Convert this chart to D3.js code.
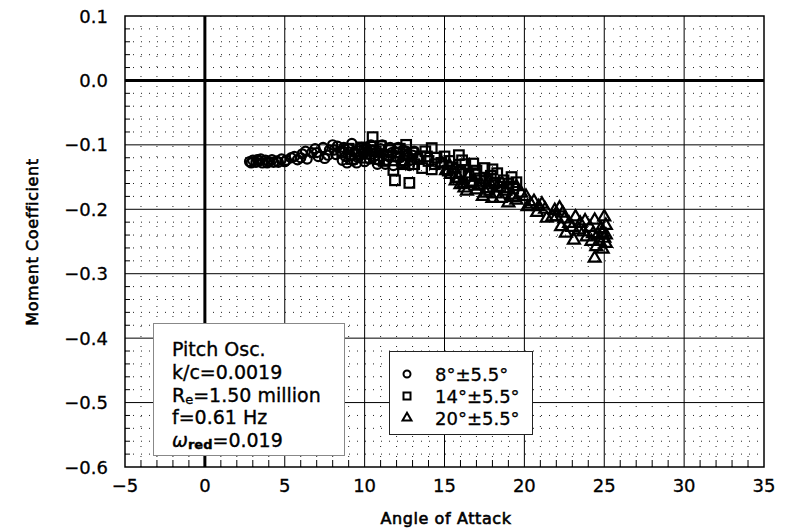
<!DOCTYPE html>
<html><head><meta charset="utf-8">
<script src="https://cdn.jsdelivr.net/npm/d3@7"></script>
<style>body{margin:0;background:#fff}svg{display:block;font-family:"DejaVu Sans",sans-serif}</style>
</head><body><svg id="c" width="791" height="531"></svg>
<script>
const xTicks=[-5,0,5,10,15,20,25,30,35];
const yTicks=[0.1,0.0,-0.1,-0.2,-0.3,-0.4,-0.5,-0.6];
const yTickLabels=["0.1","0.0","\u22120.1","\u22120.2","\u22120.3","\u22120.4","\u22120.5","\u22120.6"];
const xTickLabels=["\u22125","0","5","10","15","20","25","30","35"];
const legendLabels=["8\u00b0\u00b15.5\u00b0","14\u00b0\u00b15.5\u00b0","20\u00b0\u00b15.5\u00b0"];
const circleData=[[2.8,-0.126],[3.0,-0.124],[3.2,-0.127],[3.4,-0.125],[3.6,-0.128],[3.8,-0.124],[4.0,-0.126],[4.2,-0.123],[4.5,-0.125],[4.8,-0.122],[5.1,-0.124],[5.4,-0.120],[5.6,-0.118],[5.8,-0.123],[6.1,-0.114],[6.3,-0.110],[6.4,-0.122],[6.7,-0.112],[6.9,-0.106],[7.1,-0.118],[7.4,-0.104],[7.5,-0.121],[7.8,-0.108],[8.0,-0.100],[8.2,-0.115],[8.3,-0.102],[8.6,-0.124],[8.9,-0.128],[9.0,-0.106],[9.2,-0.098],[9.4,-0.112],[9.6,-0.120],[9.8,-0.104],[10.0,-0.126],[10.2,-0.110],[10.4,-0.100],[10.6,-0.118],[10.8,-0.130],[11.0,-0.106],[11.2,-0.114],[11.4,-0.124],[11.6,-0.104],[11.8,-0.132],[12.0,-0.112],[12.2,-0.120],[12.4,-0.108],[12.5,-0.128],[12.7,-0.116],[12.9,-0.124],[13.1,-0.110],[13.3,-0.120],[9.5,-0.128],[10.5,-0.108],[8.5,-0.110],[11.5,-0.118],[7.0,-0.112],[6.0,-0.120],[5.0,-0.126],[3.5,-0.122],[4.3,-0.127],[2.9,-0.128],[3.3,-0.123],[3.9,-0.128],[4.6,-0.127],[8.7,-0.104],[9.1,-0.116],[9.3,-0.124],[9.9,-0.114],[10.1,-0.104],[10.3,-0.122],[10.7,-0.112],[10.9,-0.124],[11.1,-0.100],[11.3,-0.130],[11.7,-0.112],[12.1,-0.104],[12.3,-0.128],[12.6,-0.110],[12.8,-0.132],[13.0,-0.116],[7.7,-0.116],[8.1,-0.108],[8.8,-0.118]];
const squareData=[[8.6,-0.112],[9.0,-0.106],[9.4,-0.115],[9.8,-0.104],[10.1,-0.120],[10.5,-0.088],[10.7,-0.110],[11.0,-0.102],[11.2,-0.125],[11.5,-0.108],[11.8,-0.139],[11.9,-0.155],[12.1,-0.118],[12.4,-0.130],[12.6,-0.100],[12.8,-0.159],[13.0,-0.112],[13.3,-0.122],[13.6,-0.136],[13.8,-0.110],[14.2,-0.105],[14.2,-0.138],[14.5,-0.120],[14.8,-0.128],[15.0,-0.118],[15.3,-0.125],[15.5,-0.135],[15.9,-0.116],[16.0,-0.142],[16.3,-0.130],[16.5,-0.148],[16.8,-0.129],[17.0,-0.140],[17.2,-0.152],[17.5,-0.136],[17.8,-0.170],[17.9,-0.148],[18.1,-0.160],[18.3,-0.144],[18.5,-0.165],[18.7,-0.155],[19.0,-0.160],[19.3,-0.168],[19.5,-0.158],[13.5,-0.118],[12.0,-0.112],[10.0,-0.108],[15.7,-0.150],[16.7,-0.158],[14.0,-0.125],[9.2,-0.122],[9.6,-0.110],[10.3,-0.114],[10.9,-0.122],[11.4,-0.116],[12.2,-0.106],[12.5,-0.124],[13.1,-0.130],[13.9,-0.118],[14.4,-0.130],[15.2,-0.140],[16.1,-0.124],[16.9,-0.146],[17.6,-0.156],[18.0,-0.138],[18.9,-0.166],[19.2,-0.150]];
const triangleData=[[14.8,-0.128],[15.1,-0.140],[15.4,-0.146],[15.6,-0.136],[15.9,-0.152],[16.2,-0.160],[16.25,-0.167],[16.5,-0.150],[16.8,-0.158],[17.0,-0.170],[17.3,-0.162],[17.6,-0.175],[17.8,-0.158],[18.0,-0.183],[18.3,-0.166],[18.5,-0.183],[18.8,-0.172],[19.2,-0.178],[19.5,-0.165],[19.5,-0.186],[19.8,-0.175],[20.1,-0.180],[20.4,-0.192],[20.6,-0.188],[20.9,-0.196],[21.1,-0.192],[21.4,-0.214],[21.75,-0.212],[21.9,-0.202],[22.2,-0.198],[22.3,-0.227],[22.5,-0.215],[22.6,-0.237],[22.8,-0.222],[23.1,-0.248],[23.2,-0.212],[23.5,-0.222],[23.7,-0.235],[23.9,-0.243],[24.1,-0.228],[24.4,-0.217],[24.4,-0.276],[24.5,-0.258],[24.6,-0.240],[24.8,-0.230],[24.9,-0.237],[25.0,-0.212],[25.1,-0.253],[25.0,-0.245],[24.7,-0.250],[25.1,-0.225],[24.2,-0.250],[23.4,-0.232],[22.0,-0.212],[20.8,-0.205],[19.0,-0.190],[17.4,-0.180],[16.0,-0.162],[15.3,-0.132],[15.7,-0.156],[16.4,-0.172],[17.1,-0.164],[17.7,-0.168],[18.2,-0.176],[18.6,-0.160],[19.3,-0.182],[20.2,-0.196],[21.3,-0.200],[22.4,-0.206],[23.0,-0.228],[23.8,-0.218],[24.3,-0.238],[24.9,-0.262],[25.1,-0.240]];

const svg=d3.select("#c");
const L=125,R=764,T=16,B=467;
const x=d3.scaleLinear().domain([-5,35]).range([L,R]);
const y=d3.scaleLinear().domain([-0.6,0.1]).range([B,T]);

const g=svg.append("g");
const minorX=d3.range(-4,35,1).filter(v=>v%5!==0);
const minorY=d3.range(-29,5,1).map(v=>v*0.02).filter(v=>Math.abs(Math.round(v*50))%5!==0);
g.selectAll(".mx").data(minorX).join("line").attr("x1",d=>x(d)).attr("x2",d=>x(d)).attr("y1",T).attr("y2",B)
 .attr("stroke","#222").attr("stroke-width",1).attr("stroke-dasharray","1,9");
g.selectAll(".my").data(minorY).join("line").attr("y1",d=>y(d)).attr("y2",d=>y(d)).attr("x1",L).attr("x2",R)
 .attr("stroke","#222").attr("stroke-width",1).attr("stroke-dasharray","1,7");
g.selectAll(".Mx").data(xTicks.slice(1,-1)).join("line").attr("x1",d=>x(d)).attr("x2",d=>x(d)).attr("y1",T).attr("y2",B)
 .attr("stroke","#000").attr("stroke-width",d=>d===0?3:1);
g.selectAll(".My").data(yTicks.slice(1,-1)).join("line").attr("y1",d=>y(d)).attr("y2",d=>y(d)).attr("x1",L).attr("x2",R)
 .attr("stroke","#000").attr("stroke-width",d=>d===0?3:1);
g.selectAll(".tx").data(minorX).join("line").attr("x1",d=>x(d)).attr("x2",d=>x(d)).attr("y1",B).attr("y2",B-7).attr("stroke","#000");
g.selectAll(".ty").data(minorY).join("line").attr("y1",d=>y(d)).attr("y2",d=>y(d)).attr("x1",L).attr("x2",L+5).attr("stroke","#000");
svg.append("rect").attr("x",L).attr("y",T).attr("width",R-L).attr("height",B-T).attr("fill","none").attr("stroke","#000").attr("stroke-width",1.5);

svg.selectAll(".yl").data(yTicks).join("text").attr("x",L-17).attr("y",d=>y(d)+6.5).attr("text-anchor","end")
 .attr("font-size",18).attr("stroke","#000").attr("stroke-width",0.3).text((d,i)=>yTickLabels[i]);
svg.selectAll(".xl").data(xTicks).join("text").attr("x",d=>x(d)).attr("y",B+25).attr("text-anchor","middle")
 .attr("font-size",18).attr("stroke","#000").attr("stroke-width",0.3).text((d,i)=>xTickLabels[i]);
svg.append("text").attr("x",446).attr("y",524).attr("text-anchor","middle").attr("font-size",16).attr("stroke","#000").attr("stroke-width",0.6).attr("letter-spacing",0.6).text("Angle of Attack");
svg.append("text").attr("transform","translate(38,242) rotate(-90)").attr("text-anchor","middle").attr("font-size",16).attr("stroke","#000").attr("stroke-width",0.6).attr("letter-spacing",0.6).text("Moment Coefficient");

const pts=svg.append("g").attr("fill","none").attr("stroke","#000").attr("stroke-width",2.2);
pts.selectAll(".c").data(circleData).join("circle").attr("cx",d=>x(d[0])).attr("cy",d=>y(d[1])).attr("r",4.6);
pts.selectAll(".s").data(squareData).join("rect").attr("x",d=>x(d[0])-4.8).attr("y",d=>y(d[1])-4.8).attr("width",9.6).attr("height",9.6);
const tri=d3.symbol().type(d3.symbolTriangle).size(62);
pts.selectAll(".t").data(triangleData).join("path").attr("transform",d=>`translate(${x(d[0])},${y(d[1])})`).attr("d",tri);

svg.append("rect").attr("x",153.5).attr("y",323.5).attr("width",191).attr("height",132).attr("fill","#fff").attr("stroke","#888").attr("stroke-width",1);
const ann=svg.append("g").attr("font-size",19).attr("stroke","#000").attr("stroke-width",0.35);
ann.append("text").attr("x",172).attr("y",356).text("Pitch Osc.");
ann.append("text").attr("x",172).attr("y",379).text("k/c=0.0019");
const t3=ann.append("text").attr("x",172).attr("y",402);
t3.append("tspan").text("R");t3.append("tspan").attr("font-size",13).attr("dy",2).text("e");t3.append("tspan").attr("dy",-2).text("=1.50 million");
ann.append("text").attr("x",172).attr("y",424).text("f=0.61 Hz");
const t5=ann.append("text").attr("x",172).attr("y",447);
t5.append("tspan").attr("font-style","italic").text("\u03c9");t5.append("tspan").attr("font-size",13).attr("font-weight","bold").attr("dy",2).text("red");t5.append("tspan").attr("dy",-2).text("=0.019");

svg.append("rect").attr("x",389.5).attr("y",351.5).attr("width",143).attr("height",83).attr("fill","#fff").attr("stroke","#222").attr("stroke-width",1);
const lg=svg.append("g");
const ly=[374,396,418];
lg.append("circle").attr("cx",407).attr("cy",ly[0]).attr("r",3.5).attr("fill","none").attr("stroke","#000").attr("stroke-width",2);
lg.append("rect").attr("x",403.5).attr("y",ly[1]-3.5).attr("width",7).attr("height",7).attr("fill","none").attr("stroke","#000").attr("stroke-width",2);
lg.append("path").attr("transform",`translate(407,${ly[2]})`).attr("d",d3.symbol().type(d3.symbolTriangle).size(35)).attr("fill","none").attr("stroke","#000").attr("stroke-width",2);
lg.selectAll(".lt").data(legendLabels).join("text").attr("x",435).attr("y",(d,i)=>ly[i]+7).attr("font-size",18).attr("stroke","#000").attr("stroke-width",0.3).text(d=>d);
</script></body></html>
